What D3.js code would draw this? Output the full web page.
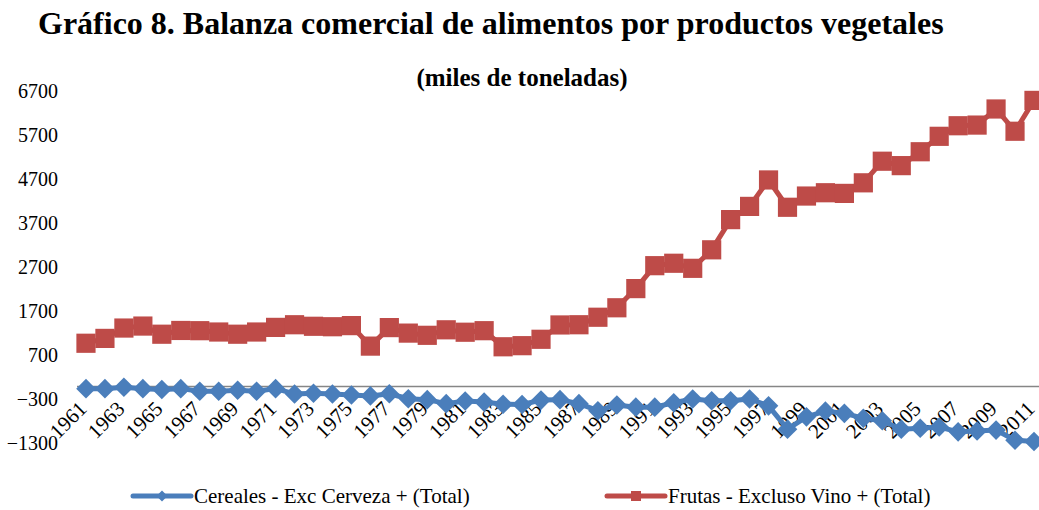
<!DOCTYPE html>
<html>
<head>
<meta charset="utf-8">
<script src="https://cdn.jsdelivr.net/npm/d3@7"></script>
<style>
  body { margin: 0; background: #fff; }
  svg { display: block; font-family: "Liberation Serif", "Times New Roman", serif; }
</style>
</head>
<body>
<div id="chart"></div>
<script>
// Data (miles de toneladas)
var years = d3.range(1961, 2012);
var cereales = [
  -60, -60, -30, -60, -80, -60, -120, -120, -95, -120,
  -60, -180, -165, -180, -205, -225, -175, -290, -310, -400,
  -340, -365, -415, -420, -320, -310, -400, -560, -430, -480,
  -480, -380, -295, -335, -335, -295, -450, -980, -700, -570,
  -620, -730, -790, -980, -960, -930, -1040, -1020, -1000, -1230, -1260
];
var frutas = [
  970, 1080, 1315, 1360, 1175, 1260, 1255, 1225, 1175, 1225,
  1330, 1390, 1355, 1345, 1370, 905, 1325, 1200, 1150, 1275,
  1220, 1255, 890, 915, 1060, 1385, 1390, 1560, 1775, 2210,
  2730, 2785, 2670, 3090, 3775, 4075, 4675, 4055, 4310, 4385,
  4370, 4610, 5100, 5000, 5315, 5665, 5905, 5920, 6285, 5780, 6480
];
var yTicks = [-1300, -300, 700, 1700, 2700, 3700, 4700, 5700, 6700];
var seriesNames = ['Cereales - Exc Cerveza + (Total)', 'Frutas - Excluso Vino + (Total)'];
var colors = ['#4a7ebb', '#be4b48'];

var width = 1039, height = 510;
var svg = d3.select('#chart').append('svg')
    .attr('width', width)
    .attr('height', height);

// Titles
svg.append('text')
    .attr('x', 38).attr('y', 34)
    .style('font-size', '32px').style('font-weight', 'bold')
    .text('Gráfico 8. Balanza comercial de alimentos por productos vegetales');
svg.append('text')
    .attr('x', 522).attr('y', 86)
    .attr('text-anchor', 'middle')
    .style('font-size', '25px').style('font-weight', 'bold')
    .text('(miles de toneladas)');

// Scales
var step = 18.96;
var x = d3.scaleBand()
    .domain(years)
    .range([76.5, 76.5 + step * years.length]);
var cx = function(yr) { return x(yr) + x.bandwidth() / 2; };
var y = d3.scaleLinear()
    .domain([-1300, 6700])
    .range([443.3, 90.7]);

// Y axis (labels only)
var yAxis = svg.append('g')
    .attr('transform', 'translate(60,0)')
    .call(d3.axisLeft(y).tickValues(yTicks).tickSize(0).tickPadding(2).tickFormat(d3.format('d')));
yAxis.select('.domain').remove();
yAxis.selectAll('text')
    .style('font-family', '"Liberation Serif", serif')
    .style('font-size', '20px')
    .attr('fill', '#000');

// X axis on the zero line
var xAxis = svg.append('g')
    .attr('transform', 'translate(0,' + y(0) + ')')
    .call(d3.axisBottom(x).tickValues(years.filter(function(d, i) { return i % 2 === 0; })).tickSize(0));
xAxis.select('.domain')
    .attr('stroke', '#868686')
    .attr('stroke-width', 1.5);
xAxis.selectAll('text')
    .style('font-family', '"Liberation Serif", serif')
    .style('font-size', '21px')
    .attr('fill', '#000')
    .attr('text-anchor', 'end')
    .attr('dy', null)
    .attr('x', 2)
    .attr('y', 24)
    .attr('transform', 'rotate(-45,2,24)');

// Series
var line = d3.line()
    .x(function(d) { return cx(d.year); })
    .y(function(d) { return y(d.value); });

var series = [cereales, frutas].map(function(vals, i) {
  return {
    name: seriesNames[i],
    color: colors[i],
    values: vals.map(function(v, j) { return {year: years[j], value: v}; })
  };
});

var diamond = function(r) {
  return 'M0,' + (-r) + 'L' + r + ',0L0,' + r + 'L' + (-r) + ',0Z';
};
var square = function(r) {
  return 'M' + (-r) + ',' + (-r) + 'H' + r + 'V' + r + 'H' + (-r) + 'Z';
};

series.forEach(function(s, i) {
  var g = svg.append('g');
  g.append('path')
      .datum(s.values)
      .attr('d', line)
      .attr('fill', 'none')
      .attr('stroke', s.color)
      .attr('stroke-width', 5)
      .attr('stroke-linejoin', 'round');
  g.selectAll('path.marker')
      .data(s.values)
    .enter().append('path')
      .attr('class', 'marker')
      .attr('transform', function(d) { return 'translate(' + cx(d.year) + ',' + y(d.value) + ')'; })
      .attr('d', i === 0 ? diamond(9.8) : square(9.6))
      .attr('fill', s.color);
});

// Legend
var legendItems = [
  {x: 133, text: 194},
  {x: 607, text: 668}
];
series.forEach(function(s, i) {
  var lg = svg.append('g').attr('transform', 'translate(0,496)');
  var it = legendItems[i];
  lg.append('line')
      .attr('x1', it.x).attr('x2', it.x + 58)
      .attr('y1', 0).attr('y2', 0)
      .attr('stroke', s.color)
      .attr('stroke-width', 5)
      .attr('stroke-linecap', 'round');
  lg.append('path')
      .attr('transform', 'translate(' + (it.x + 29) + ',0)')
      .attr('d', i === 0 ? diamond(5.5) : square(5))
      .attr('fill', s.color);
  lg.append('text')
      .attr('x', it.text).attr('y', 7)
      .style('font-size', '21px')
      .text(s.name);
});
</script>
</body>
</html>
